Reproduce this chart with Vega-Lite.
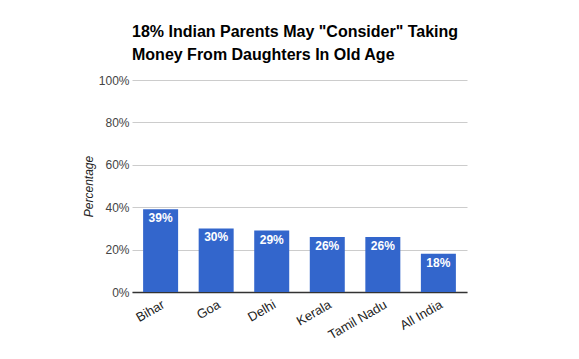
{
  "$schema": "https://vega.github.io/schema/vega-lite/v6.json",
  "width": 335,
  "height": 212,
  "autosize": "none",
  "padding": {"left": 132, "top": 80, "right": 112, "bottom": 67},
  "background": "white",
  "config": {"view": {"stroke": null}},
  "title": {
    "text": ["18% Indian Parents May \"Consider\" Taking", "Money From Daughters In Old Age"],
    "anchor": "start",
    "frame": "group",
    "font": "Liberation Sans",
    "fontSize": 16,
    "fontWeight": "bold",
    "color": "#000000",
    "lineHeight": 23,
    "offset": 11
  },
  "data": {
    "values": [
      {"state": "Bihar", "value": 39, "label": "39%"},
      {"state": "Goa", "value": 30, "label": "30%"},
      {"state": "Delhi", "value": 29, "label": "29%"},
      {"state": "Kerala", "value": 26, "label": "26%"},
      {"state": "Tamil Nadu", "value": 26, "label": "26%"},
      {"state": "All India", "value": 18, "label": "18%"}
    ]
  },
  "encoding": {
    "x": {
      "field": "state",
      "type": "nominal",
      "sort": null,
      "scale": {"paddingInner": 0.37, "paddingOuter": 0.2},
      "axis": {
        "title": null,
        "labelAngle": -30,
        "labelAlign": "right",
        "labelBaseline": "top",
        "labelFont": "Liberation Sans",
        "labelFontSize": 13,
        "labelColor": "#222222",
        "labelPadding": 6,
        "ticks": false,
        "domainColor": "#333333",
        "domainWidth": 1.5
      }
    },
    "y": {
      "field": "value",
      "type": "quantitative",
      "scale": {"domain": [0, 100]},
      "axis": {
        "title": "Percentage",
        "titleFont": "Liberation Sans",
        "titleFontSize": 12,
        "titleFontStyle": "italic",
        "titleFontWeight": "normal",
        "titleColor": "#222222",
        "titlePadding": 3,
        "values": [0, 20, 40, 60, 80, 100],
        "labelExpr": "datum.value + '%'",
        "labelFont": "Liberation Sans",
        "labelFontSize": 12,
        "labelColor": "#444444",
        "labelPadding": 3,
        "ticks": false,
        "domain": false,
        "gridColor": "#cccccc"
      }
    }
  },
  "layer": [
    {"mark": {"type": "bar", "color": "#3366cc"}},
    {
      "mark": {"type": "text", "color": "white", "font": "Liberation Sans", "fontSize": 12, "fontWeight": "bold", "baseline": "top", "dy": 4},
      "encoding": {"text": {"field": "label", "type": "nominal"}}
    }
  ]
}
